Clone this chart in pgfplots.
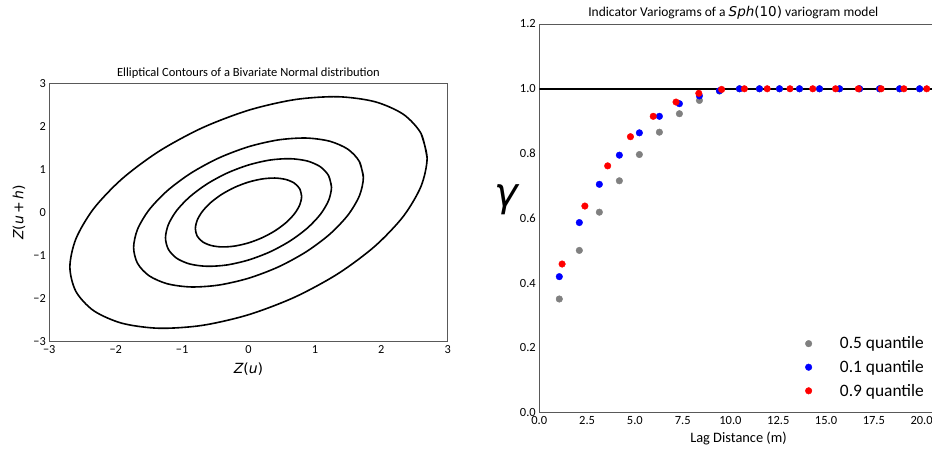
\documentclass[border=0pt]{standalone}
\usepackage{fontspec}
\setmainfont{Carlito}
\newfontfamily\dejavu{DejaVu Sans}
\usepackage{pgfplots}
\pgfplotsset{compat=1.18}
\newcommand\mi[1]{{\dejavu\itshape #1}}
\newcommand\mr[1]{{\dejavu #1}}
\definecolor{mgray}{RGB}{128,128,128}
\definecolor{mblue}{RGB}{0,0,255}
\definecolor{mred}{RGB}{255,0,0}
\begin{document}
\begin{tikzpicture}[x=1pt,y=1pt]
\path[use as bounding box] (0,0) rectangle (932,449);
% ---------------- left: elliptical contours
\begin{axis}[
  at={(49.3pt,107.3pt)}, anchor=south west,
  scale only axis, width=398.4pt, height=258.4pt,
  xmin=-3, xmax=3, ymin=-3, ymax=3,
  xtick={-3,-2,-1,0,1,2,3}, ytick={-3,-2,-1,0,1,2,3},
  xticklabels={−3,−2,−1,0,1,2,3}, yticklabels={−3,−2,−1,0,1,2,3},
  major tick length=0pt,
  tick label style={font=\fontsize{12.3}{14}\selectfont},
  axis line style={draw=black!65, line width=0.8pt},
  title={Elliptical Contours of a Bivariate Normal distribution},
  title style={font=\fontsize{12.5}{14}\selectfont, at={(0.5,1.0175)}, anchor=center},
  xlabel={\mi{Z}\mr{(}\mi{u}\mr{)}},
  xlabel style={font=\fontsize{14}{16}\selectfont, at={(0.5,-0.1057)}, anchor=center},
  ylabel={\mi{Z}\mr{(}\mi{u}\mr{\,+\,}\mi{h}\mr{)}},
  ylabel style={font=\fontsize{14}{16}\selectfont, at={(-0.076,0.5)}, anchor=center},
]
\addplot[black, line width=1.6pt, smooth] coordinates {
(0.800,0.376) (0.773,0.546) (0.693,0.679) (0.566,0.765) (0.400,0.800) (0.207,0.779)
(0.000,0.706) (-0.207,0.585) (-0.400,0.424) (-0.566,0.234) (-0.693,0.028) (-0.773,-0.180)
(-0.800,-0.376) (-0.773,-0.546) (-0.693,-0.679) (-0.566,-0.765) (-0.400,-0.800) (-0.207,-0.779)
(0.000,-0.706) (0.207,-0.585) (0.400,-0.424) (0.566,-0.234) (0.693,-0.028) (0.773,0.180)
(0.800,0.376) (0.773,0.546)};
\addplot[black, line width=1.6pt, smooth] coordinates {
(1.250,0.588) (1.207,0.853) (1.083,1.061) (0.884,1.196) (0.625,1.249) (0.324,1.218)
(0.000,1.103) (-0.324,0.914) (-0.625,0.662) (-0.884,0.365) (-1.083,0.043) (-1.207,-0.282)
(-1.250,-0.588) (-1.207,-0.853) (-1.083,-1.061) (-0.884,-1.196) (-0.625,-1.249) (-0.324,-1.218)
(0.000,-1.103) (0.324,-0.914) (0.625,-0.662) (0.884,-0.365) (1.083,-0.043) (1.207,0.282)
(1.250,0.588) (1.207,0.853)};
\addplot[black, line width=1.6pt, smooth] coordinates {
(1.730,0.813) (1.671,1.181) (1.498,1.468) (1.223,1.655) (0.865,1.729) (0.448,1.685)
(0.000,1.527) (-0.448,1.265) (-0.865,0.916) (-1.223,0.505) (-1.498,0.060) (-1.671,-0.390)
(-1.730,-0.813) (-1.671,-1.181) (-1.498,-1.468) (-1.223,-1.655) (-0.865,-1.729) (-0.448,-1.685)
(0.000,-1.527) (0.448,-1.265) (0.865,-0.916) (1.223,-0.505) (1.498,-0.060) (1.671,0.390)
(1.730,0.813) (1.671,1.181)};
\addplot[black, line width=1.6pt, smooth] coordinates {
(2.690,1.264) (2.598,1.836) (2.330,2.282) (1.902,2.573) (1.345,2.688) (0.696,2.621)
(0.000,2.374) (-0.696,1.966) (-1.345,1.424) (-1.902,0.785) (-2.330,0.093) (-2.598,-0.607)
(-2.690,-1.264) (-2.598,-1.836) (-2.330,-2.282) (-1.902,-2.573) (-1.345,-2.688) (-0.696,-2.621)
(0.000,-2.374) (0.696,-1.966) (1.345,-1.424) (1.902,-0.785) (2.330,-0.093) (2.598,0.607)
(2.690,1.264) (2.598,1.836)};
\end{axis}
% ---------------- right: indicator variograms
\begin{axis}[
  at={(539.3pt,36.3pt)}, anchor=south west,
  scale only axis, width=398.4pt, height=388.7pt,
  xmin=0, xmax=20.84, ymin=0, ymax=1.2,
  xtick={0,2.5,...,20}, ytick={0,0.2,...,1.2},
  /pgf/number format/.cd, fixed, fixed zerofill, precision=1, assume math mode=true,
  /pgfplots/.cd,
  major tick length=0pt,
  tick label style={font=\fontsize{12.5}{14}\selectfont},
  axis line style={draw=black!65, line width=0.8pt},
  title={Indicator Variograms of a \mi{Sph}\mr{(10)} variogram model},
  title style={font=\fontsize{13.5}{15}\selectfont, at={(0.487,1.013)}, anchor=center},
  xlabel={Lag Distance (m)},
  xlabel style={font=\fontsize{14.4}{16}\selectfont, at={(0.5,-0.0659)}, anchor=center},
  ylabel={\mi{γ}},
  ylabel style={font=\fontsize{40}{44}\selectfont, rotate=-90, at={(-0.0818,0.547)}, anchor=center},
  legend style={draw=none, fill=none, font=\fontsize{17.4}{20}\selectfont,
    at={(0.819,0.117)}, anchor=center, row sep=6pt,
    /tikz/every odd column/.append style={column sep=26pt}},
  legend cell align=left,
]
\addplot[black, line width=2pt, forget plot] coordinates {(0,1) (22,1)};
\addplot[only marks, mark=*, mark size=3.3pt, color=mgray] coordinates {
(1.047,0.351) (2.094,0.501) (3.141,0.619) (4.188,0.716) (5.235,0.797) (6.282,0.866)
(7.329,0.923) (8.376,0.964) (9.423,0.993) (10.470,1.0) (11.517,1.0) (12.564,1.0)
(13.611,1.0) (14.658,1.0) (15.705,1.0) (16.752,1.0) (17.799,1.0) (18.846,1.0) (19.893,1.0)};
\addlegendentry{0.5 quantile}
\addplot[only marks, mark=*, mark size=3.3pt, color=mblue] coordinates {
(1.047,0.420) (2.094,0.587) (3.141,0.705) (4.188,0.795) (5.235,0.864) (6.282,0.915)
(7.329,0.954) (8.376,0.978) (9.423,0.994) (10.470,1.0) (11.517,1.0) (12.564,1.0)
(13.611,1.0) (14.658,1.0) (15.705,1.0) (16.752,1.0) (17.799,1.0) (18.846,1.0) (19.893,1.0)};
\addlegendentry{0.1 quantile}
\addplot[only marks, mark=*, mark size=3.3pt, color=mred] coordinates {
(1.192,0.459) (2.384,0.638) (3.576,0.762) (4.768,0.852) (5.960,0.915) (7.152,0.959)
(8.344,0.986) (9.536,0.998) (10.728,1.0) (11.920,1.0) (13.112,1.0) (14.304,1.0)
(15.496,1.0) (16.688,1.0) (17.880,1.0) (19.072,1.0) (20.264,1.0)};
\addlegendentry{0.9 quantile}
\end{axis}
\end{tikzpicture}
\end{document}
